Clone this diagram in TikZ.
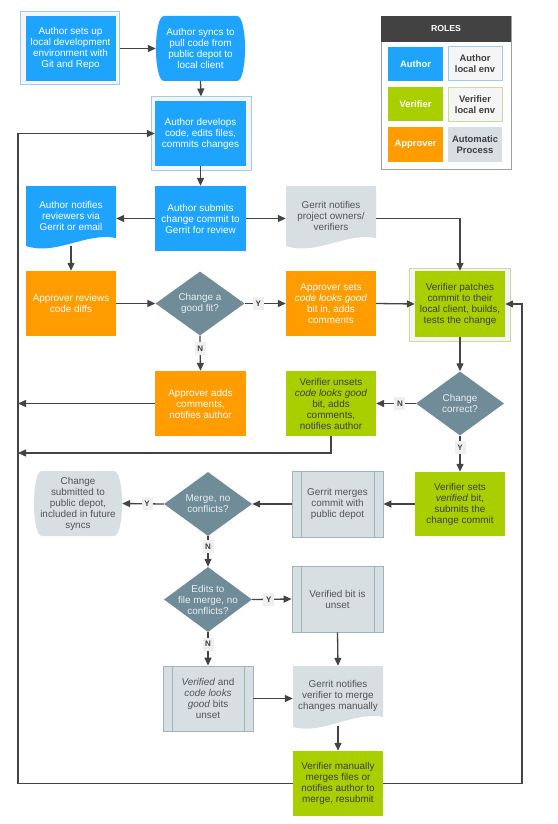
\documentclass[tikz,border=0pt]{standalone}
\usepackage{fontspec}
\setmainfont{Liberation Sans}
\usetikzlibrary{arrows.meta,shapes.geometric,calc}
\definecolor{cAuthor}{HTML}{1EA4FC}
\definecolor{cAframe}{HTML}{9CCBF7}
\definecolor{cVframe}{HTML}{C6DE96}
\definecolor{cFrame}{HTML}{F5F5F5}
\definecolor{cAppr}{HTML}{FF9C00}
\definecolor{cVer}{HTML}{A9CF00}
\definecolor{cAuto}{HTML}{D7DFE3}
\definecolor{cAutoB}{HTML}{9DB3C0}
\definecolor{cDia}{HTML}{6F8C98}
\definecolor{cDiaT}{HTML}{E8EEF1}
\definecolor{cDark}{HTML}{3F3F3F}
\definecolor{cAutoT}{HTML}{555555}
\definecolor{cLine}{HTML}{444444}
\definecolor{cLab}{HTML}{EFEFEF}
\definecolor{cHead}{HTML}{424242}
\definecolor{cLegB}{HTML}{A0A0A0}
\newcommand\myroundside[5]{% colour, x1, top, x2, bottom
  \fill[#1] (#2+8,#3) -- (#4-8,#3) .. controls (#4+2.7,#3) and (#4+2.7,#5) .. (#4-8,#5) -- (#2+8,#5) .. controls (#2-2.7,#5) and (#2-2.7,#3) .. (#2+8,#3) -- cycle;}
\begin{document}
\begin{tikzpicture}[x=1pt,y=-1pt,
  every node/.style={inner sep=0pt, align=center, font=\fontsize{9.9}{11}\selectfont},
  box/.style={rectangle, minimum width=90pt, minimum height=65pt},
  author/.style={box, fill=cAuthor, text=white},
  appr/.style={box, fill=cAppr, text=white},
  ver/.style={box, fill=cVer, text=cDark},
  auto/.style={box, fill=cAuto, text=cAutoT},
  plain/.style={box, text=cAutoT},
  frame/.style={rectangle, fill=cFrame, line width=1pt, minimum width=100pt, minimum height=73pt},
  dia/.style={diamond, fill=cDia, minimum width=89pt, minimum height=64pt},
  diatext/.style={text=cDiaT},
  lab/.style={fill=cLab, text=cDark, font=\bfseries\fontsize{8}{9}\selectfont, inner sep=1.5pt, minimum width=11pt, minimum height=13pt},
  conn/.style={draw=cLine, line width=1.3pt, -{Triangle[length=8pt,width=7pt]}},
  leg/.style={rectangle, minimum width=55pt, minimum height=34pt, font=\bfseries\fontsize{9.4}{11}\selectfont},
]
\fill[white] (0,0) rectangle (557,824);
\useasboundingbox (0,0) rectangle (557,824);

% ---- legend
\node[draw=cLegB, fill=white, line width=0.8pt, minimum width=130pt, minimum height=153pt] (Leg) at (446,92.5) {};
\node[fill=cHead, minimum width=130pt, minimum height=26pt, text=white, font=\bfseries\fontsize{8.7}{10}\selectfont] (LegH) at (446,29) {ROLES};
\node[leg, fill=cAuthor, text=white] (LA) at (415.5,64) {Author};
\node[leg, fill=cFrame, draw=cAframe, line width=1pt, text=cDark, minimum width=54pt] (LAL) at (475,64) {Author\\local env};
\node[leg, fill=cVer, text=white] (LV) at (415.5,104.5) {Verifier};
\node[leg, fill=cFrame, draw=cVframe, line width=1pt, text=cDark, minimum width=54pt] (LVL) at (475,104.5) {Verifier\\local env};
\node[leg, fill=cAppr, text=white] (LP) at (415.5,144.5) {Approver};
\node[leg, fill=cAuto, text=cDark, minimum width=54pt] (LAP) at (475,144.5) {Automatic\\Process};

% ---- author nodes
\node[frame, draw=cAframe, minimum width=99pt] (A1f) at (70,48.5) {};
\node[author] (A1) at (70.5,48.5) {Author sets up\\local development\\environment with\\Git and Repo};
\myroundside{cAuthor}{156}{16}{245}{81}
\node[box, text=white, minimum width=89pt] (A2) at (200.5,48.5) {Author syncs to\\pull code from\\public depot to\\local client};
\node[frame, draw=cAframe] (A3f) at (201,133.5) {};
\node[author, minimum width=91pt] (A3) at (200.5,133.5) {Author develops\\code, edits files,\\commits changes};
\fill[cAuthor] (26,186) -- (116,186) -- (116,238) .. controls (86,232) and (56,256) .. (26,246) -- cycle;
\node[box, text=white, minimum height=60pt] (A4) at (71,216) {Author notifies\\reviewers via\\Gerrit or email};
\node[author, minimum width=91pt] (A5) at (200.5,218.5) {Author submits\\change commit to\\Gerrit for review};
\fill[cAuto] (286,186) -- (376,186) -- (376,238) .. controls (346,232) and (316,256) .. (286,246) -- cycle;
\node[plain, minimum height=60pt] (G1) at (331,216) {Gerrit notifies\\project owners/\\verifiers};

% ---- approver row
\node[appr] (P1) at (71,303.5) {Approver reviews\\code diffs};
\node[dia] (D1) at (200,303.5) {};
\node[diatext] at (D1) {Change a\\good fit?};
\node[appr] (P2) at (331,303.5) {Approver sets\\\textit{code looks good}\\bit in, adds\\comments};
\node[frame, draw=cVframe, minimum width=101pt] (V1f) at (459.5,304.5) {};
\node[ver, minimum height=66pt] (V1) at (460,304) {Verifier patches\\commit to their\\local client, builds,\\tests the change};

\node[appr, minimum width=91pt] (P3) at (200.5,403.5) {Approver adds\\comments,\\notifies author};
\node[ver] (V2) at (331,403.5) {Verifier unsets\\\textit{code looks good}\\bit, adds\\comments,\\notifies author};
\node[dia, minimum width=88pt] (D2) at (460,403.5) {};
\node[diatext] at (D2) {Change\\correct?};

% ---- merge row
\node[ver, minimum height=64pt] (V3) at (460,504) {Verifier sets\\\textit{verified} bit,\\submits the\\change commit};
\node[auto, draw=cAutoB, line width=0.8pt, minimum width=91pt, minimum height=66pt] (G2) at (337.5,504) {Gerrit merges\\commit with\\public depot};
\draw[cAutoB, line width=0.8pt] ($(G2.north west)+(10,0)$) -- ($(G2.south west)+(10,0)$) ($(G2.north east)+(-9,0)$) -- ($(G2.south east)+(-9,0)$);
\node[dia, minimum width=88pt] (D3) at (208,504) {};
\node[diatext] at (D3) {Merge, no\\conflicts?};
\myroundside{cAuto}{34}{471}{122}{536}
\node[box, text=cAutoT, minimum width=88pt] (E1) at (78,503.5) {Change\\submitted to\\public depot,\\included in future\\syncs};

\node[dia, minimum width=88pt, minimum height=65pt] (D4) at (208,599.5) {};
\node[diatext] at (D4) {Edits to\\file merge, no\\conflicts?};
\node[auto, draw=cAutoB, line width=0.8pt, minimum width=91pt, minimum height=66pt] (G3) at (337.5,599) {Verified bit is\\unset};
\draw[cAutoB, line width=0.8pt] ($(G3.north west)+(10,0)$) -- ($(G3.south west)+(10,0)$) ($(G3.north east)+(-9,0)$) -- ($(G3.south east)+(-9,0)$);

\node[auto, draw=cAutoB, line width=0.8pt] (G5) at (208,698.5) {\textit{Verified} and\\\textit{code looks}\\\textit{good} bits\\unset};
\draw[cAutoB, line width=0.8pt] ($(G5.north west)+(10,0)$) -- ($(G5.south west)+(10,0)$) ($(G5.north east)+(-9,0)$) -- ($(G5.south east)+(-9,0)$);
\fill[cAuto] (293,666) -- (383,666) -- (383,717) .. controls (353,711) and (323,735) .. (293,727) -- cycle;
\node[plain, minimum height=60pt] (G4) at (338,696) {Gerrit notifies\\verifier to merge\\changes manually};
\node[ver] (V4) at (338,783.5) {Verifier manually\\merges files or\\notifies author to\\merge, resubmit};

% ---- connectors
\coordinate (Lb) at (18,783.5);
\coordinate (Rb) at (522,783.5);
\coordinate (Lm) at (18,453);
\draw[conn] (A1f.east) -- (A2.west);
\draw[conn] (A2.south) -- (A3f.north);
\draw[conn] (A3.south) -- (A5.north);
\draw[conn] (A5.west) -- (A5.west -| A4.east);
\draw[conn] (A5.east) -- (A5.east -| G1.west);
\draw[conn] (A5.east -| G1.east) -| (V1.north);
\draw[conn] (A4.south) -- (P1.north);
\draw[conn] (P1.east) -- (D1.west);
\draw[conn] (D1.east) -- node[lab, pos=0.33] {Y} (P2.west);
\draw[conn] (D1.south) -- node[lab, pos=0.36] {N} (P3.north);
\draw[conn] (P2.east) -- (V1.west);
\draw[conn] (V1.south) -- (D2.north);
\draw[conn] (D2.west) -- node[lab, pos=0.4] {N} (V2.east);
\draw[conn] (D2.south) -- node[lab, pos=0.32] {Y} (V3.north);
\draw[conn] (V3.west) -- (G2.east);
\draw[conn] (G2.west) -- (D3.east);
\draw[conn] (D3.west) -- node[lab, pos=0.4] {Y} (E1.east);
\draw[conn] (D3.south) -- node[lab, pos=0.33] {N} (D4.north);
\draw[conn] (D4.east) -- node[lab, pos=0.42] {Y} (G3.west);
\draw[conn] (D4.south) -- node[lab, pos=0.36] {N} (G5.north);
\draw[conn] (G5.east) -- (G5.east -| G4.west);
\draw[conn] (G3.south) -- (G4.north);
\draw[conn] (G4.south) -- (V4.north);
\draw[conn] (P3.west) -- (P3.west -| Lb);
\draw[conn] (V2.south) |- (Lm);
\draw[conn] (V4.west) -- (Lb) |- (A3.west);
\draw[conn] (V4.east) -- (Rb) |- (V1.east);
\end{tikzpicture}
\end{document}
